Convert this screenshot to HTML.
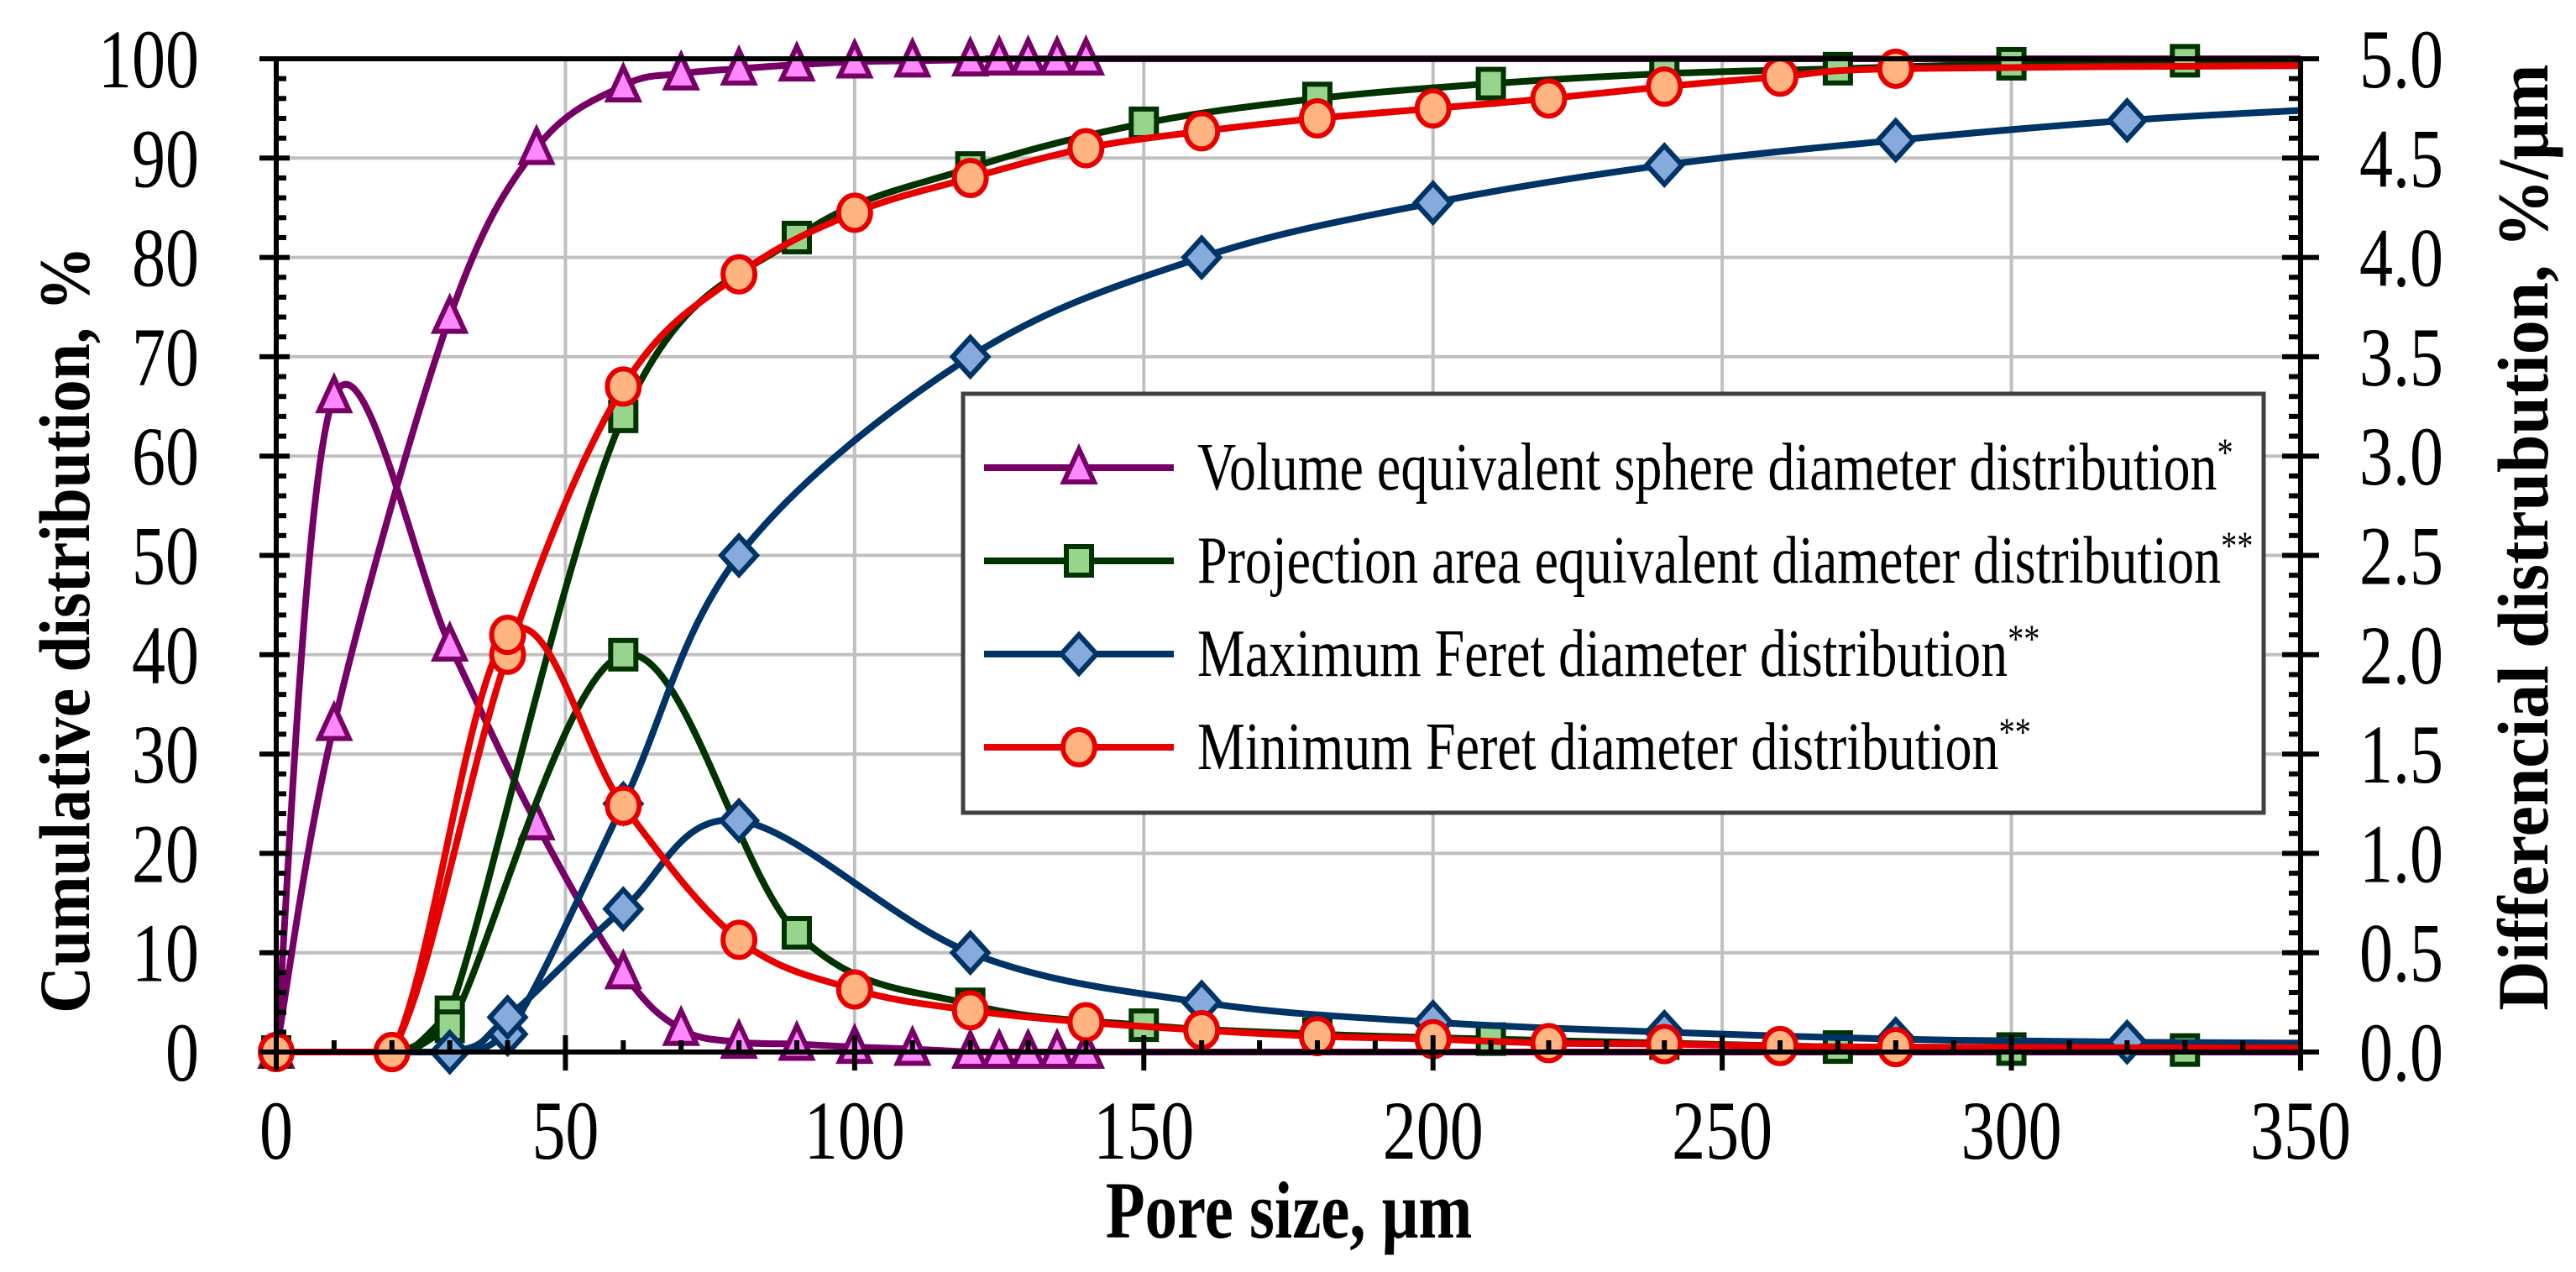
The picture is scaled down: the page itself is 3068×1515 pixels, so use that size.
<!DOCTYPE html>
<html><head><meta charset="utf-8"><style>
html,body{margin:0;padding:0;background:#fff}
svg{display:block}
text{font-family:"Liberation Serif",serif;fill:#000}
</style></head><body>
<svg id="chart" xmlns="http://www.w3.org/2000/svg" width="3068" height="1515" viewBox="0 0 3068 1515">
<g id="grid"></g>
<g id="series"></g>
<g id="axes"></g>
<g id="legend"></g>
</svg>
<script>
const xTicks=[0,50,100,150,200,250,300,350];
const yLeftTicks=[0,10,20,30,40,50,60,70,80,90,100];
const yRightTicks=["0.0","0.5","1.0","1.5","2.0","2.5","3.0","3.5","4.0","4.5","5.0"];
// Volume equivalent sphere
const volX=[0,10,30,45,60,70,80,90,100,110,120,125,130,135,140,350];
const volCum=[0,33,74,91,97.3,98.5,99,99.4,99.7,99.8,99.9,100,100,100,100,100];
const volDiffX=[0,10,30,45,60,70,80,90,100,110,120,125,130,135,140,350];
const volDiff=[0,3.3,2.05,1.15,0.4,0.115,0.05,0.04,0.025,0.015,0,0,0,0,0,0];
// Projection area
const projX=[0,20,30,60,90,120,150,180,210,240,270,300,330,350];
const projCum=[0,0,4,64,82,89,93.5,96,97.5,98.5,99,99.5,99.8,99.8];
const projDiff=[0,0,0.13,2.0,0.6,0.24,0.135,0.09,0.065,0.045,0.025,0.015,0.01,0.01];
// Maximum Feret
const maxX=[0,30,40,60,80,120,160,200,240,280,320,350];
const maxCum=[0,0,1.8,25,50,70,80,85.5,89.3,91.8,93.8,94.8];
const maxDiff=[0,0,0.175,0.72,1.165,0.5,0.25,0.15,0.1,0.065,0.05,0.045];
// Minimum Feret
const minX=[0,20,40,60,80,100,120,140,160,180,200,220,240,260,280,350];
const minCum=[0,0,40,67,78.3,84.5,88,91,92.7,94,95,96,97.2,98.2,99,99.3];
const minDiff=[0,0,2.1,1.24,0.565,0.315,0.21,0.15,0.11,0.08,0.065,0.045,0.04,0.03,0.025,0.02];
const legendLabels=["Volume equivalent sphere diameter distribution","Projection area equivalent diameter distribution","Maximum Feret diameter distribution","Minimum Feret diameter distribution"];
const legendSup=["*","**","**","**"];

const NS="http://www.w3.org/2000/svg";
const L=329,R=2740,T=70,B=1253;
const sx=v=>L+(v/350)*(R-L);
const syL=v=>B-(v/100)*(B-T);
const syR=v=>B-(v/5)*(B-T);
function mk(tag,attrs,parent){const e=document.createElementNS(NS,tag);for(const k in attrs)e.setAttribute(k,attrs[k]);parent.appendChild(e);return e;}
const grid=document.getElementById('grid'),axes=document.getElementById('axes'),series=document.getElementById('series'),legend=document.getElementById('legend');

xTicks.forEach(v=>{if(v>0&&v<350){const l=mk('line',{x1:sx(v),x2:sx(v),y1:T,y2:B,stroke:'#c0c0c0','stroke-width':4},grid);

}});
yLeftTicks.forEach(v=>{if(v>0&&v<100){const l=mk('line',{x1:L,x2:R,y1:syL(v),y2:syL(v),stroke:'#c0c0c0','stroke-width':4},grid);

}});

function txt(s,x,y,size,anchor,weight,parent,sc){const t=mk('text',{transform:`translate(${x},${y}) scale(${sc||0.8},1)`,'font-size':size,'text-anchor':anchor,'font-weight':weight||'normal'},parent);t.textContent=s;return t;}

// axes lines
mk('line',{x1:L,x2:R,y1:T,y2:T,stroke:'#000','stroke-width':6},axes);
mk('line',{x1:L,x2:L,y1:T,y2:B+20,stroke:'#000','stroke-width':6},axes);
mk('line',{x1:R,x2:R,y1:T,y2:B+20,stroke:'#000','stroke-width':6},axes);
mk('line',{x1:L-20,x2:R,y1:B,y2:B,stroke:'#000','stroke-width':6},axes);
for(let v=0;v<=350;v+=10){const x=sx(v);const maj=v%50===0;mk('line',{x1:x,x2:x,y1:B-(maj?20:14),y2:B+(maj?22:0),stroke:'#000','stroke-width':6},axes);}
for(let v=0;v<=100;v+=2){const y=syL(v);const maj=v%10===0;mk('line',{x1:L-(maj?20:0),x2:L+(maj?16:12),y1:y,y2:y,stroke:'#000','stroke-width':6},axes);}
for(let v=0;v<=50;v+=1){const y=syR(v/10);const maj=v%5===0;mk('line',{x1:R-(maj?22:14),x2:R+(maj?22:0),y1:y,y2:y,stroke:'#000','stroke-width':6},axes);}
xTicks.forEach(v=>{const t=txt(String(v),sx(v),1380,100,'middle','normal',axes);

});
yLeftTicks.forEach(v=>{const t=txt(String(v),237,syL(v)+34,100,'end','normal',axes);

});
yRightTicks.forEach((s,i)=>{const t=txt(s,2810,syR(parseFloat(s))+34,100,'start','normal',axes);

});
const xt=txt('Pore size, μm',1535,1474,96,'middle','bold',axes);


const yl=mk('text',{transform:`translate(106,750) rotate(-90) scale(0.9,1)`,'font-size':86,'text-anchor':'middle','font-weight':'bold'},axes);yl.textContent='Cumulative distribution, %';


const yr=mk('text',{transform:`translate(3034,640) rotate(-90) scale(0.95,1)`,'font-size':86,'text-anchor':'middle','font-weight':'bold'},axes);yr.textContent='Differencial distrubution, %/μm';



function smooth(pts){let d=`M${pts[0][0]},${pts[0][1]}`;for(let i=0;i<pts.length-1;i++){const p0=pts[Math.max(0,i-1)],p1=pts[i],p2=pts[i+1],p3=pts[Math.min(pts.length-1,i+2)];const t=0.17;
const c1=[p1[0]+(p2[0]-p0[0])*t,Math.min(B,p1[1]+(p2[1]-p0[1])*t)],c2=[p2[0]-(p3[0]-p1[0])*t,Math.min(B,p2[1]-(p3[1]-p1[1])*t)];d+=` C${c1[0]},${c1[1]} ${c2[0]},${c2[1]} ${p2[0]},${p2[1]}`;}return d;}
function marker(type,x,y,fill,stroke,parent){let e;
if(type==='tri')e=mk('polygon',{points:`${x},${y-22} ${x-18},${y+17} ${x+18},${y+17}`,fill,stroke,'stroke-width':6},parent);
else if(type==='sq')e=mk('rect',{x:x-15,y:y-17,width:30,height:34,fill,stroke,'stroke-width':6},parent);
else if(type==='dia')e=mk('polygon',{points:`${x},${y-23} ${x+21},${y} ${x},${y+23} ${x-21},${y}`,fill,stroke,'stroke-width':6},parent);
else e=mk('ellipse',{cx:x,cy:y,rx:19,ry:21,fill,stroke,'stroke-width':6},parent);return e;}
const defs=[
 {name:'volume',xs:volX,cum:volCum,dxs:volDiffX,diff:volDiff,c:'#770066',f:'#ff88ff',m:'tri'},
 {name:'projection',xs:projX,cum:projCum,dxs:projX,diff:projDiff,c:'#003300',f:'#99d48c',m:'sq'},
 {name:'max-feret',xs:maxX,cum:maxCum,dxs:maxX,diff:maxDiff,c:'#003366',f:'#86aadc',m:'dia'},
 {name:'min-feret',xs:minX,cum:minCum,dxs:minX,diff:minDiff,c:'#e60000',f:'#ffb380',m:'circ'}];
defs.forEach(s=>{
 const g=mk('g',{},series);
 
 
 const pc=s.xs.map((x,i)=>[sx(x),syL(s.cum[i])]);
 const pd=s.dxs.map((x,i)=>[sx(x),syR(s.diff[i])]);
 const l1=mk('path',{d:smooth(pc),fill:'none',stroke:s.c,'stroke-width':8},g);
 
 
 const l2=mk('path',{d:smooth(pd),fill:'none',stroke:s.c,'stroke-width':8},g);
 
 
 s.xs.forEach((x,i)=>{if(x===350||(x===20&&s.m!=='circ'))return;if(x===0&&s.m==='dia')return;
  const m=marker(s.m,sx(x),syL(s.cum[i]),s.f,s.c,g);
  
  });
 s.dxs.forEach((x,i)=>{if(x===350||x===0||(x===20&&s.m!=='circ')||(x===30&&s.m==='dia'))return;
  const m=marker(s.m,sx(x),syR(s.diff[i]),s.f,s.c,g);
  
  });
});

// legend
const box=mk('rect',{x:1147,y:469,width:1549,height:499,fill:'#fff',stroke:'#404040','stroke-width':5},legend);


defs.forEach((s,i)=>{const y=557+i*111;
 const g=mk('g',{},legend);
 
 
 mk('line',{x1:1172,x2:1398,y1:y,y2:y,stroke:s.c,'stroke-width':8},g);
 marker(s.m,1285,y,s.f,s.c,g);
 const t=mk('text',{transform:`translate(1426,${y+26}) scale(0.8,1)`,'font-size':80},g);
 t.textContent=legendLabels[i];
 const sp=mk('tspan',{dy:-28,'font-size':48},t);sp.textContent=legendSup[i];
});
</script>
</body></html>
